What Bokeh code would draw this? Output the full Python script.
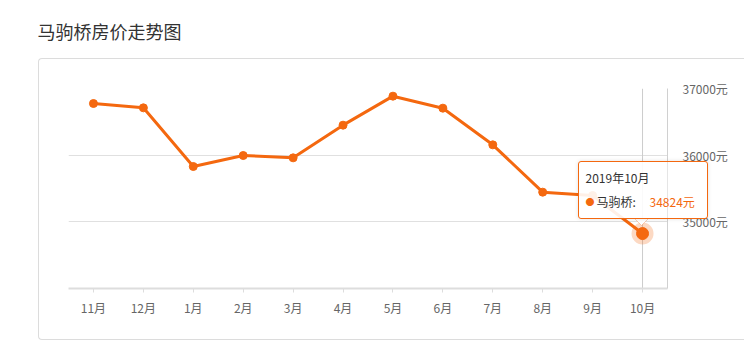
from bokeh.plotting import figure
from bokeh.models import (FactorRange, Range1d, FixedTicker, BoxAnnotation, Label,
                          PolyAnnotation, InlineStyleSheet)
from bokeh.embed import file_html
from bokeh.resources import INLINE

# ---- data ----
title_text = "马驹桥房价走势图"
months = ["11月", "12月", "1月", "2月", "3月", "4月", "5月", "6月", "7月", "8月", "9月", "10月"]
prices = [36775, 36710, 35830, 35995, 35960, 36450, 36885, 36705, 36155, 35445, 35395, 34824]
y_ticks = [34000, 35000, 36000, 37000]
y_tick_labels = {35000: "35000元", 36000: "36000元", 37000: "37000元", 34000: ""}
series_name = "马驹桥"
tip_date = "2019年10月"
unit = "元"

FONT = "Noto Sans CJK SC"
ORANGE = "#f4680f"

p = figure(width=744, height=360, output_backend="svg", toolbar_location=None,
           x_range=FactorRange(*months, range_padding=0),
           y_range=Range1d(34000, 37000), y_axis_location="right",
           min_border_left=68, min_border_right=77, min_border_top=88,
           min_border_bottom=72)
p.outline_line_color = None
p.background_fill_color = "white"
p.border_fill_color = "white"

# outer frame box and tooltip outline as decoration (css, drawn over the canvas)
css = """
:host { position: relative; }
:host::before {
  content: ""; position: absolute; z-index: 5; pointer-events: none;
  left: 38px; top: 58px; width: 706px; height: 282px; box-sizing: border-box;
  border: 1px solid #dcdcdc; border-right: none; border-radius: 4px 0 0 4px;
}
:host::after {
  content: ""; position: absolute; z-index: 6; pointer-events: none;
  left: 578px; top: 161px; width: 130px; height: 58px; box-sizing: border-box;
  border: 1px solid #f4680f; border-radius: 3px;
  box-shadow: 0 0 4px rgba(0,0,0,0.12);
}
"""
p.stylesheets = [InlineStyleSheet(css=css)]

# axes
xa = p.xaxis[0]
xa.axis_line_color = "#dddddd"
xa.axis_line_width = 2
xa.major_tick_line_color = "#dddddd"
xa.major_tick_in = 0
xa.major_tick_out = 4
xa.minor_tick_line_color = None
xa.major_label_text_font = FONT
xa.major_label_text_font_size = "12px"
xa.major_label_text_color = "#666666"
xa.major_label_standoff = 6

ya = p.yaxis[0]
ya.ticker = FixedTicker(ticks=y_ticks)
ya.major_label_overrides = y_tick_labels
ya.axis_line_color = "#d0d0d0"
ya.major_tick_line_color = None
ya.minor_tick_line_color = None
ya.major_label_text_font = FONT
ya.major_label_text_font_size = "12px"
ya.major_label_text_color = "#666666"
ya.major_label_standoff = 9

p.xgrid.grid_line_color = None
p.ygrid.ticker = FixedTicker(ticks=y_ticks)
p.ygrid.grid_line_color = "#e0e0e0"

# crosshair on last month
p.segment(x0=[months[-1]], y0=[34000], x1=[months[-1]], y1=[37000],
          line_color="#cccccc", line_width=1)

# series
p.line(months, prices, line_color=ORANGE, line_width=3)
p.scatter(months, prices, size=8, fill_color=ORANGE, line_color=ORANGE)

# highlighted point
p.scatter([months[-1]], [prices[-1]], size=22, fill_color=ORANGE, fill_alpha=0.25,
          line_color=None)
p.scatter([months[-1]], [prices[-1]], size=12, fill_color=ORANGE, line_color=ORANGE)

# tooltip body (inside the frame) and pointer
p.add_layout(BoxAnnotation(left=578, right=707, top=161, bottom=218,
                           left_units="canvas", right_units="canvas",
                           top_units="canvas", bottom_units="canvas",
                           fill_color="white", fill_alpha=0.9, line_color=None,
                           level="annotation"))
p.add_layout(PolyAnnotation(xs=[634, 641, 648], ys=[218, 225, 218],
                            xs_units="canvas", ys_units="canvas",
                            fill_color="white", fill_alpha=1, line_color=ORANGE,
                            line_width=1, level="annotation"))

# texts (placed in side panels so that they are not clipped to the frame)
def lab(x, y, text, size, color, side):
    p.add_layout(Label(x=x, y=y, x_units="canvas", y_units="canvas", text=text,
                       text_font=FONT, text_font_size=size, text_color=color,
                       text_baseline="middle", text_align="left", level="overlay"),
                 side)

lab(37, 30, title_text, "18px", "#333333", "above")
lab(585, 177, tip_date, "12px", "#333333", "above")
lab(585, 201, "●", "9px", ORANGE, "above")
lab(596, 201, series_name + ":", "12px", "#333333", "below")
lab(649, 201, f"{prices[-1]}{unit}", "12px", ORANGE, "below")

open("out.html", "w").write(file_html(p, INLINE))
